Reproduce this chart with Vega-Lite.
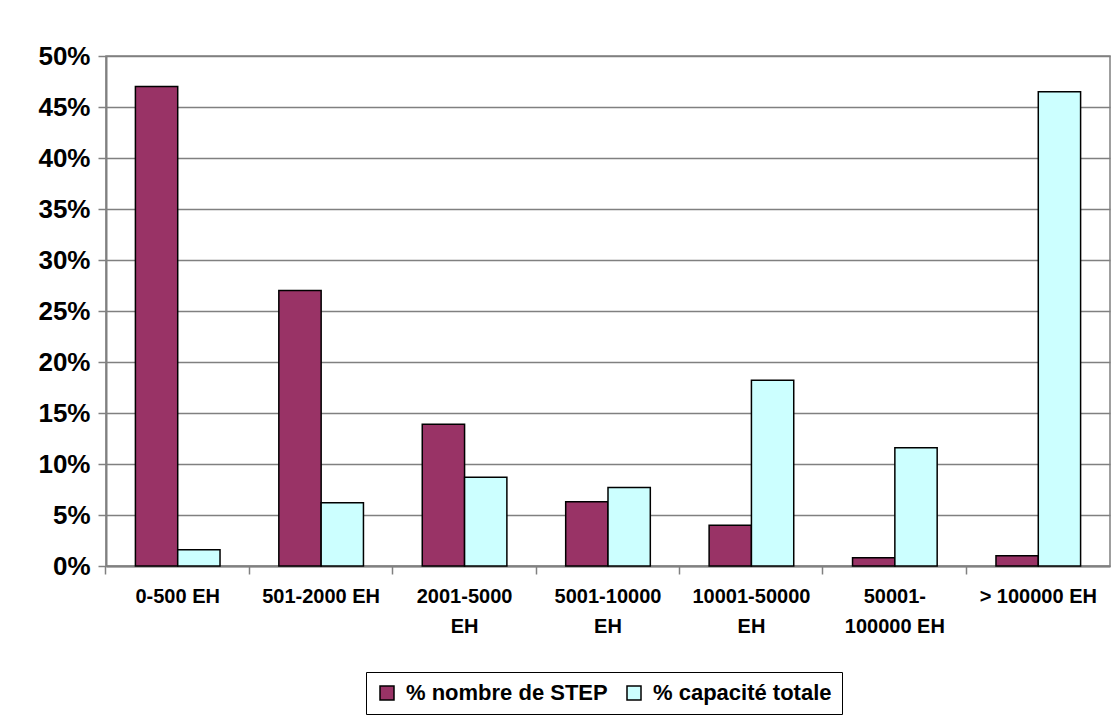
{
  "$schema": "https://vega.github.io/schema/vega-lite/v6.json",
  "autosize": {"type": "none"},
  "width": 1004,
  "height": 510,
  "padding": {"left": 106, "top": 56, "right": 5, "bottom": 151},
  "background": "white",
  "data": {
    "values": [
      {"taille": "0-500 EH", "serie": "% nombre de STEP", "part": 0.47},
      {"taille": "0-500 EH", "serie": "% capacité totale", "part": 0.016},
      {"taille": "501-2000 EH", "serie": "% nombre de STEP", "part": 0.27},
      {"taille": "501-2000 EH", "serie": "% capacité totale", "part": 0.062},
      {"taille": "2001-5000 EH", "serie": "% nombre de STEP", "part": 0.139},
      {"taille": "2001-5000 EH", "serie": "% capacité totale", "part": 0.087},
      {"taille": "5001-10000 EH", "serie": "% nombre de STEP", "part": 0.063},
      {"taille": "5001-10000 EH", "serie": "% capacité totale", "part": 0.077},
      {"taille": "10001-50000 EH", "serie": "% nombre de STEP", "part": 0.04},
      {"taille": "10001-50000 EH", "serie": "% capacité totale", "part": 0.182},
      {"taille": "50001-100000 EH", "serie": "% nombre de STEP", "part": 0.008},
      {"taille": "50001-100000 EH", "serie": "% capacité totale", "part": 0.116},
      {"taille": "> 100000 EH", "serie": "% nombre de STEP", "part": 0.01},
      {"taille": "> 100000 EH", "serie": "% capacité totale", "part": 0.465}
    ]
  },
  "mark": {"type": "bar", "stroke": "black", "strokeWidth": 1.5},
  "encoding": {
    "x": {
      "field": "taille",
      "type": "nominal",
      "sort": null,
      "title": null,
      "scale": {"paddingInner": 0.41, "paddingOuter": 0.205},
      "axis": {
        "bandPosition": -0.35,
        "labelAngle": 0,
        "labelFont": "Liberation Sans",
        "labelFontWeight": "bold",
        "labelFontSize": 20,
        "labelColor": "black",
        "labelPadding": 12,
        "labelLineHeight": 30,
        "labelBaseline": "top",
        "labelLimit": 200,
        "labelExpr": "datum.value == '2001-5000 EH' ? ['2001-5000', 'EH'] : datum.value == '5001-10000 EH' ? ['5001-10000', 'EH'] : datum.value == '10001-50000 EH' ? ['10001-50000', 'EH'] : datum.value == '50001-100000 EH' ? ['50001-', '100000 EH'] : datum.value",
        "domainColor": "#808080",
        "domainWidth": 2,
        "tickColor": "#808080",
        "tickWidth": 1.5,
        "tickSize": 8,
        "grid": false
      }
    },
    "xOffset": {
      "field": "serie",
      "type": "nominal",
      "sort": ["% nombre de STEP", "% capacité totale"],
      "scale": {"paddingInner": 0, "paddingOuter": 0}
    },
    "y": {
      "field": "part",
      "type": "quantitative",
      "title": null,
      "scale": {"domain": [0, 0.5], "nice": false},
      "axis": {
        "values": [0, 0.05, 0.1, 0.15, 0.2, 0.25, 0.3, 0.35, 0.4, 0.45, 0.5],
        "format": ".0%",
        "labelFont": "Liberation Sans",
        "labelFontWeight": "bold",
        "labelFontSize": 26,
        "labelColor": "black",
        "labelPadding": 8,
        "domainColor": "#808080",
        "domainWidth": 2,
        "tickColor": "#808080",
        "tickWidth": 1.5,
        "tickSize": 8,
        "grid": true,
        "gridColor": "#808080",
        "gridWidth": 1.5
      }
    },
    "color": {
      "field": "serie",
      "type": "nominal",
      "sort": ["% nombre de STEP", "% capacité totale"],
      "scale": {"domain": ["% nombre de STEP", "% capacité totale"], "range": ["#993366", "#CCFFFF"]},
      "legend": {
        "title": null,
        "orient": "none",
        "legendX": 260,
        "legendY": 616,
        "direction": "horizontal",
        "symbolType": "square",
        "symbolSize": 196,
        "symbolStrokeColor": "black",
        "symbolStrokeWidth": 1.5,
        "symbolOpacity": 1,
        "labelFont": "Liberation Sans",
        "labelFontWeight": "bold",
        "labelFontSize": 22,
        "labelColor": "black",
        "labelOffset": 8,
        "labelLimit": 300,
        "columnPadding": 15,
        "padding": 10,
        "strokeColor": "black",
        "fillColor": "white"
      }
    }
  },
  "config": {
    "view": {"stroke": "#808080", "strokeWidth": 1.5}
  }
}
